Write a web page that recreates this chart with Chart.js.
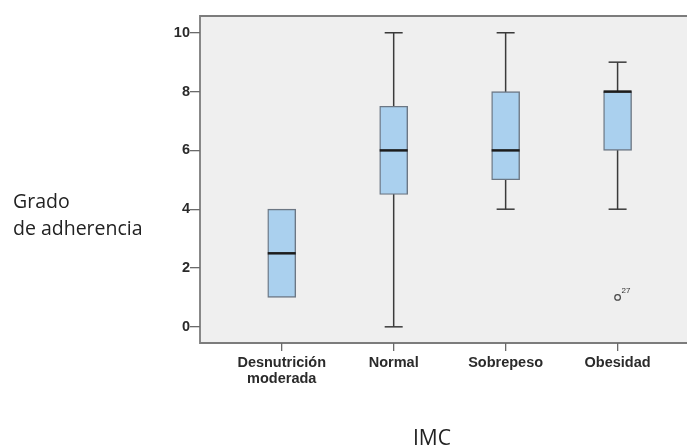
<!DOCTYPE html>
<html>
<head>
<meta charset="utf-8">
<script src="https://cdn.jsdelivr.net/npm/chart.js@4/dist/chart.umd.min.js"></script>
<style>
  body { margin: 0; background: #fff; }
  #wrap { position: relative; width: 687px; height: 448px; }
  .ttl { position: absolute; font-family: "Open Sans", sans-serif; color: #222; line-height: 27px; white-space: nowrap; }
</style>
</head>
<body>
<div id="wrap">
  <canvas id="chart" width="687" height="448"></canvas>
  <div class="ttl" style="left:13px; top:187px; font-size:19.5px;">Grado<br>de adherencia</div>
  <div class="ttl" style="left:413px; top:424px; font-size:21px;">IMC</div>
</div>
<script>
// datos (cajas de SPSS)
const categories = [["Desnutrición", "moderada"], "Normal", "Sobrepeso", "Obesidad"];
const mins = [1, 0, 4, 4];
const q1s = [1, 4.5, 5, 6];
const medians = [2.5, 6, 6, 8];
const q3s = [4, 7.5, 8, 8];
const maxs = [4, 10, 10, 9];
const outliers = [{ x: 3, y: 1, label: "27" }];
const yTicks = [0, 2, 4, 6, 8, 10];

const boxFill = "#aad0ee";
const lineCol = "#3a3a3a";
const tickFont = { family: "'Liberation Sans', Arial, sans-serif", size: 14.5, weight: "bold", lineHeight: 1.1 };

// lineas de bigotes: de min a max, separadas con null
const whiskerPts = [];
categories.forEach((c, i) => {
      if (mins[i] < q1s[i] || maxs[i] > q3s[i]) {
            whiskerPts.push({ x: i, y: mins[i] }, { x: i, y: maxs[i] }, { x: i + 0.5, y: null });
      }
});
const capPts = [];
categories.forEach((c, i) => {
      if (mins[i] < q1s[i]) capPts.push({ x: i, y: mins[i] });
      if (maxs[i] > q3s[i]) capPts.push({ x: i, y: maxs[i] });
});

const framePlugin = {
      id: "frame",
      beforeDraw(chart) {
            const { ctx, chartArea: a } = chart;
            ctx.save();
            ctx.fillStyle = "#efefef";
            ctx.fillRect(a.left, a.top, a.right - a.left, a.bottom - a.top);
            ctx.strokeStyle = "#7c7c7c";
            ctx.lineWidth = 1.8;
            ctx.beginPath();
            ctx.moveTo(a.right + 2, a.top);
            ctx.lineTo(a.left, a.top);
            ctx.lineTo(a.left, a.bottom);
            ctx.lineTo(a.right + 2, a.bottom);
            ctx.stroke();
            ctx.restore();
      },
      afterDatasetsDraw(chart) {
            // etiqueta del caso atipico
            const meta = chart.getDatasetMeta(4);
            const ctx = chart.ctx;
            ctx.save();
            ctx.font = "8px 'Liberation Sans', Arial, sans-serif";
            ctx.fillStyle = "#333";
            meta.data.forEach((pt, j) => {
                  ctx.fillText(outliers[j].label, pt.x + 4, pt.y - 4);
            });
            ctx.restore();
      },
};

new Chart(document.getElementById("chart"), {
      type: "bar",
      plugins: [framePlugin],
      data: {
            datasets: [
                  {
                        // cajas
                        type: "bar",
                        data: categories.map((c, i) => ({ x: i, y: [q1s[i], q3s[i]] })),
                        backgroundColor: boxFill,
                        borderColor: "#6c7784",
                        borderWidth: 1.4,
                        borderSkipped: false,
                        barThickness: 28,
                        order: 2,
                  },
                  {
                        // bigotes
                        type: "line",
                        data: whiskerPts,
                        borderColor: lineCol,
                        borderWidth: 1.5,
                        pointRadius: 0,
                        spanGaps: false,
                        order: 3,
                  },
                  {
                        // extremos de los bigotes
                        type: "scatter",
                        data: capPts,
                        pointStyle: "line",
                        pointRadius: 9,
                        borderColor: lineCol,
                        borderWidth: 1.5,
                        order: 1,
                  },
                  {
                        // medianas
                        type: "scatter",
                        data: categories.map((c, i) => ({ x: i, y: medians[i] })),
                        pointStyle: "line",
                        pointRadius: 14,
                        borderColor: "#1c1c1c",
                        borderWidth: 2.5,
                        order: 0,
                  },
                  {
                        // atipicos
                        type: "scatter",
                        data: outliers.map(o => ({ x: o.x, y: o.y })),
                        pointStyle: "circle",
                        pointRadius: 2.8,
                        backgroundColor: "transparent",
                        borderColor: "#444",
                        borderWidth: 1.2,
                        order: 0,
                  },
            ],
      },
      options: {
            responsive: false,
            animation: false,
            layout: { autoPadding: false, padding: { left: 0, top: 16, right: 0, bottom: 0 } },
            plugins: { legend: { display: false }, tooltip: { enabled: false } },
            scales: {
                  x: {
                        type: "linear",
                        offset: false,
                        min: -0.73,
                        max: 3.62,
                        afterBuildTicks: (s) => { s.ticks = categories.map((c, i) => ({ value: i })); },
                        afterFit: (s) => { s.height = 448 - 343; s.paddingRight = 0; s.paddingLeft = 0; },
                        grid: { display: true, offset: false, drawOnChartArea: false, drawTicks: true, tickLength: 8, color: "#6a6a6a", lineWidth: 1.3 },
                        border: { display: false },
                        ticks: {
                              autoSkip: false,
                              maxRotation: 0,
                              padding: 4,
                              color: "#2a2a2a",
                              font: tickFont,
                              callback: (v) => categories[v],
                        },
                  },
                  y: {
                        min: -0.55,
                        max: 10.57,
                        afterBuildTicks: (s) => { s.ticks = yTicks.map(v => ({ value: v })); },
                        afterFit: (s) => { s.width = 200; },
                        grid: { display: true, drawOnChartArea: false, drawTicks: true, tickLength: 10, color: "#6a6a6a", lineWidth: 1.3 },
                        border: { display: false },
                        ticks: {
                              padding: 0,
                              color: "#2a2a2a",
                              font: tickFont,
                        },
                  },
            },
      },
});
</script>
</body>
</html>
